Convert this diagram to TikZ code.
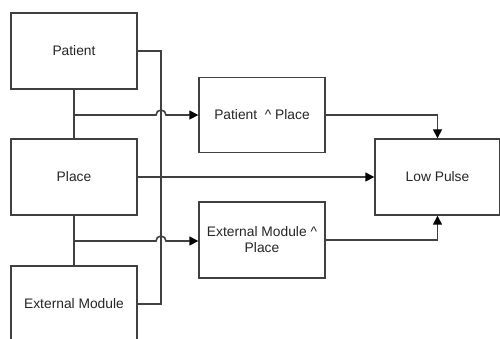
\documentclass[tikz,border=0pt]{standalone}
\usepackage{fontspec}
\setmainfont{Liberation Sans}
\usetikzlibrary{arrows.meta}
\definecolor{ln}{HTML}{404040}
\begin{document}
\begin{tikzpicture}[x=1pt,y=-1pt,
  box/.style={draw=ln,line width=1.4pt,fill=white,minimum width=126pt,minimum height=76pt,inner sep=2pt,font=\fontsize{13.8}{16}\selectfont,text=black!85,align=center},
  wire/.style={draw=ln,line width=1.6pt},
  arr/.style={wire,-{Triangle[length=9pt,width=9pt,color=black]}}]
\useasboundingbox (0,0) rectangle (500,338);
\begin{scope}
\clip (0,0) rectangle (500,338);
\node[box] (pat) at (74,51) {Patient};
\node[box] (place) at (74,177) {Place};
\node[box] (ext) at (74,304) {External Module};
\node[box,minimum height=75pt] (pp) at (262,115) {Patient \ \textasciicircum\ Place};
\node[box] (ep) at (262,240) {External Module \textasciicircum\\Place};
\node[box,minimum width=125pt] (low) at (437.5,177) {Low Pulse};

\coordinate (v1) at (161,51);
\coordinate (j1) at (74,115);
\coordinate (j2) at (74,241);
\coordinate (h1) at (156,115);
\coordinate (h2) at (156,241);

\draw[wire] (pat.east) -- (v1) |- (ext.east);
\draw[arr] (place.east) -- (low.west);
\draw[wire] (pat.south) -- (place.north);
\draw[wire] (place.south) -- (ext.north);
\draw[arr] (j1) -- (h1) arc[start angle=180,end angle=0,radius=5pt] -- (pp.west |- j1);
\draw[arr] (j2) -- (h2) arc[start angle=180,end angle=0,radius=5pt] -- (ep.west |- j2);
\draw[arr] (pp.east) -| (low.north);
\draw[arr] (ep.east) -| (low.south);
\end{scope}
\end{tikzpicture}
\end{document}
